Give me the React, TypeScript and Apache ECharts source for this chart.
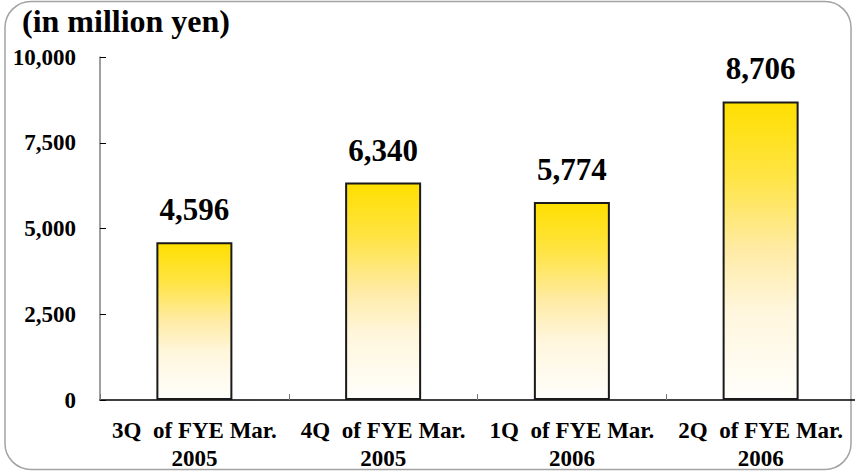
import React, { useEffect, useRef } from "react";
import * as echarts from "echarts";

const quarters = ["3Q  of FYE Mar.", "4Q  of FYE Mar.", "1Q  of FYE Mar.", "2Q  of FYE Mar."];
const years = ["2005", "2005", "2006", "2006"];
const sales = [4596, 6340, 5774, 8706];
const unitLabel = "(in million yen)";

const serif = "Liberation Serif";
const fmt = (v: number) => v.toLocaleString("en-US");

export default function App() {
  const ref = useRef<HTMLDivElement>(null);

  useEffect(() => {
    if (!ref.current) return;
    const chart = echarts.init(ref.current, undefined, { renderer: "svg" });
    const categories = quarters.map((q, i) => `${q}\n${years[i]}`);

    chart.setOption({
      animation: false,
      backgroundColor: "#ffffff",
      title: {
        text: unitLabel,
        left: 22,
        top: 5,
        padding: 0,
        textStyle: { fontFamily: serif, fontSize: 32, fontWeight: "bold", color: "#000" },
      },
      graphic: [
        {
          type: "rect",
          shape: { x: 5, y: 1.5, width: 846, height: 468, r: 26 },
          style: { fill: "none", stroke: "#a3a3a3", lineWidth: 1.5 },
          silent: true,
          z: -1,
        },
      ],
      grid: { left: 100, right: -8, top: 57, bottom: 70 },
      xAxis: {
        type: "category",
        data: categories,
        axisLine: { lineStyle: { color: "#000", width: 1.5 } },
        axisTick: { show: true, inside: true, length: 6, lineStyle: { color: "#777" } },
        axisLabel: {
          interval: 0,
          margin: 16,
          lineHeight: 28,
          fontFamily: serif,
          fontSize: 23,
          fontWeight: "bold",
          color: "#000",
        },
      },
      yAxis: {
        type: "value",
        min: 0,
        max: 10000,
        interval: 2500,
        splitLine: { show: false },
        axisLine: { show: true, lineStyle: { color: "#808080", width: 1.5 } },
        axisTick: { show: true, inside: true, length: 6, lineStyle: { color: "#000" } },
        axisLabel: {
          margin: 24,
          fontFamily: serif,
          fontSize: 23,
          fontWeight: "bold",
          color: "#000",
          formatter: (v: number) => fmt(v),
        },
      },
      series: [
        {
          type: "bar",
          data: sales,
          barWidth: 76,
          itemStyle: {
            borderColor: "#1a1a1a",
            borderWidth: 2,
            color: new echarts.graphic.LinearGradient(0, 0, 0, 1, [
              { offset: 0, color: "#FFDF00" },
              { offset: 0.25, color: "#FFE444" },
              { offset: 0.5, color: "#FFEBA6" },
              { offset: 0.7, color: "#FFF6DC" },
              { offset: 1, color: "#FFFEFB" },
            ]),
          },
          label: {
            show: true,
            position: "top",
            distance: 17,
            fontFamily: serif,
            fontSize: 31,
            fontWeight: "bold",
            color: "#000",
            formatter: (p: any) => fmt(p.value),
          },
        },
      ],
    });

    return () => chart.dispose();
  }, []);

  return (
    <div
      ref={ref}
      style={{ position: "fixed", left: 0, top: 0, width: 855, height: 472, background: "#fff" }}
    />
  );
}
